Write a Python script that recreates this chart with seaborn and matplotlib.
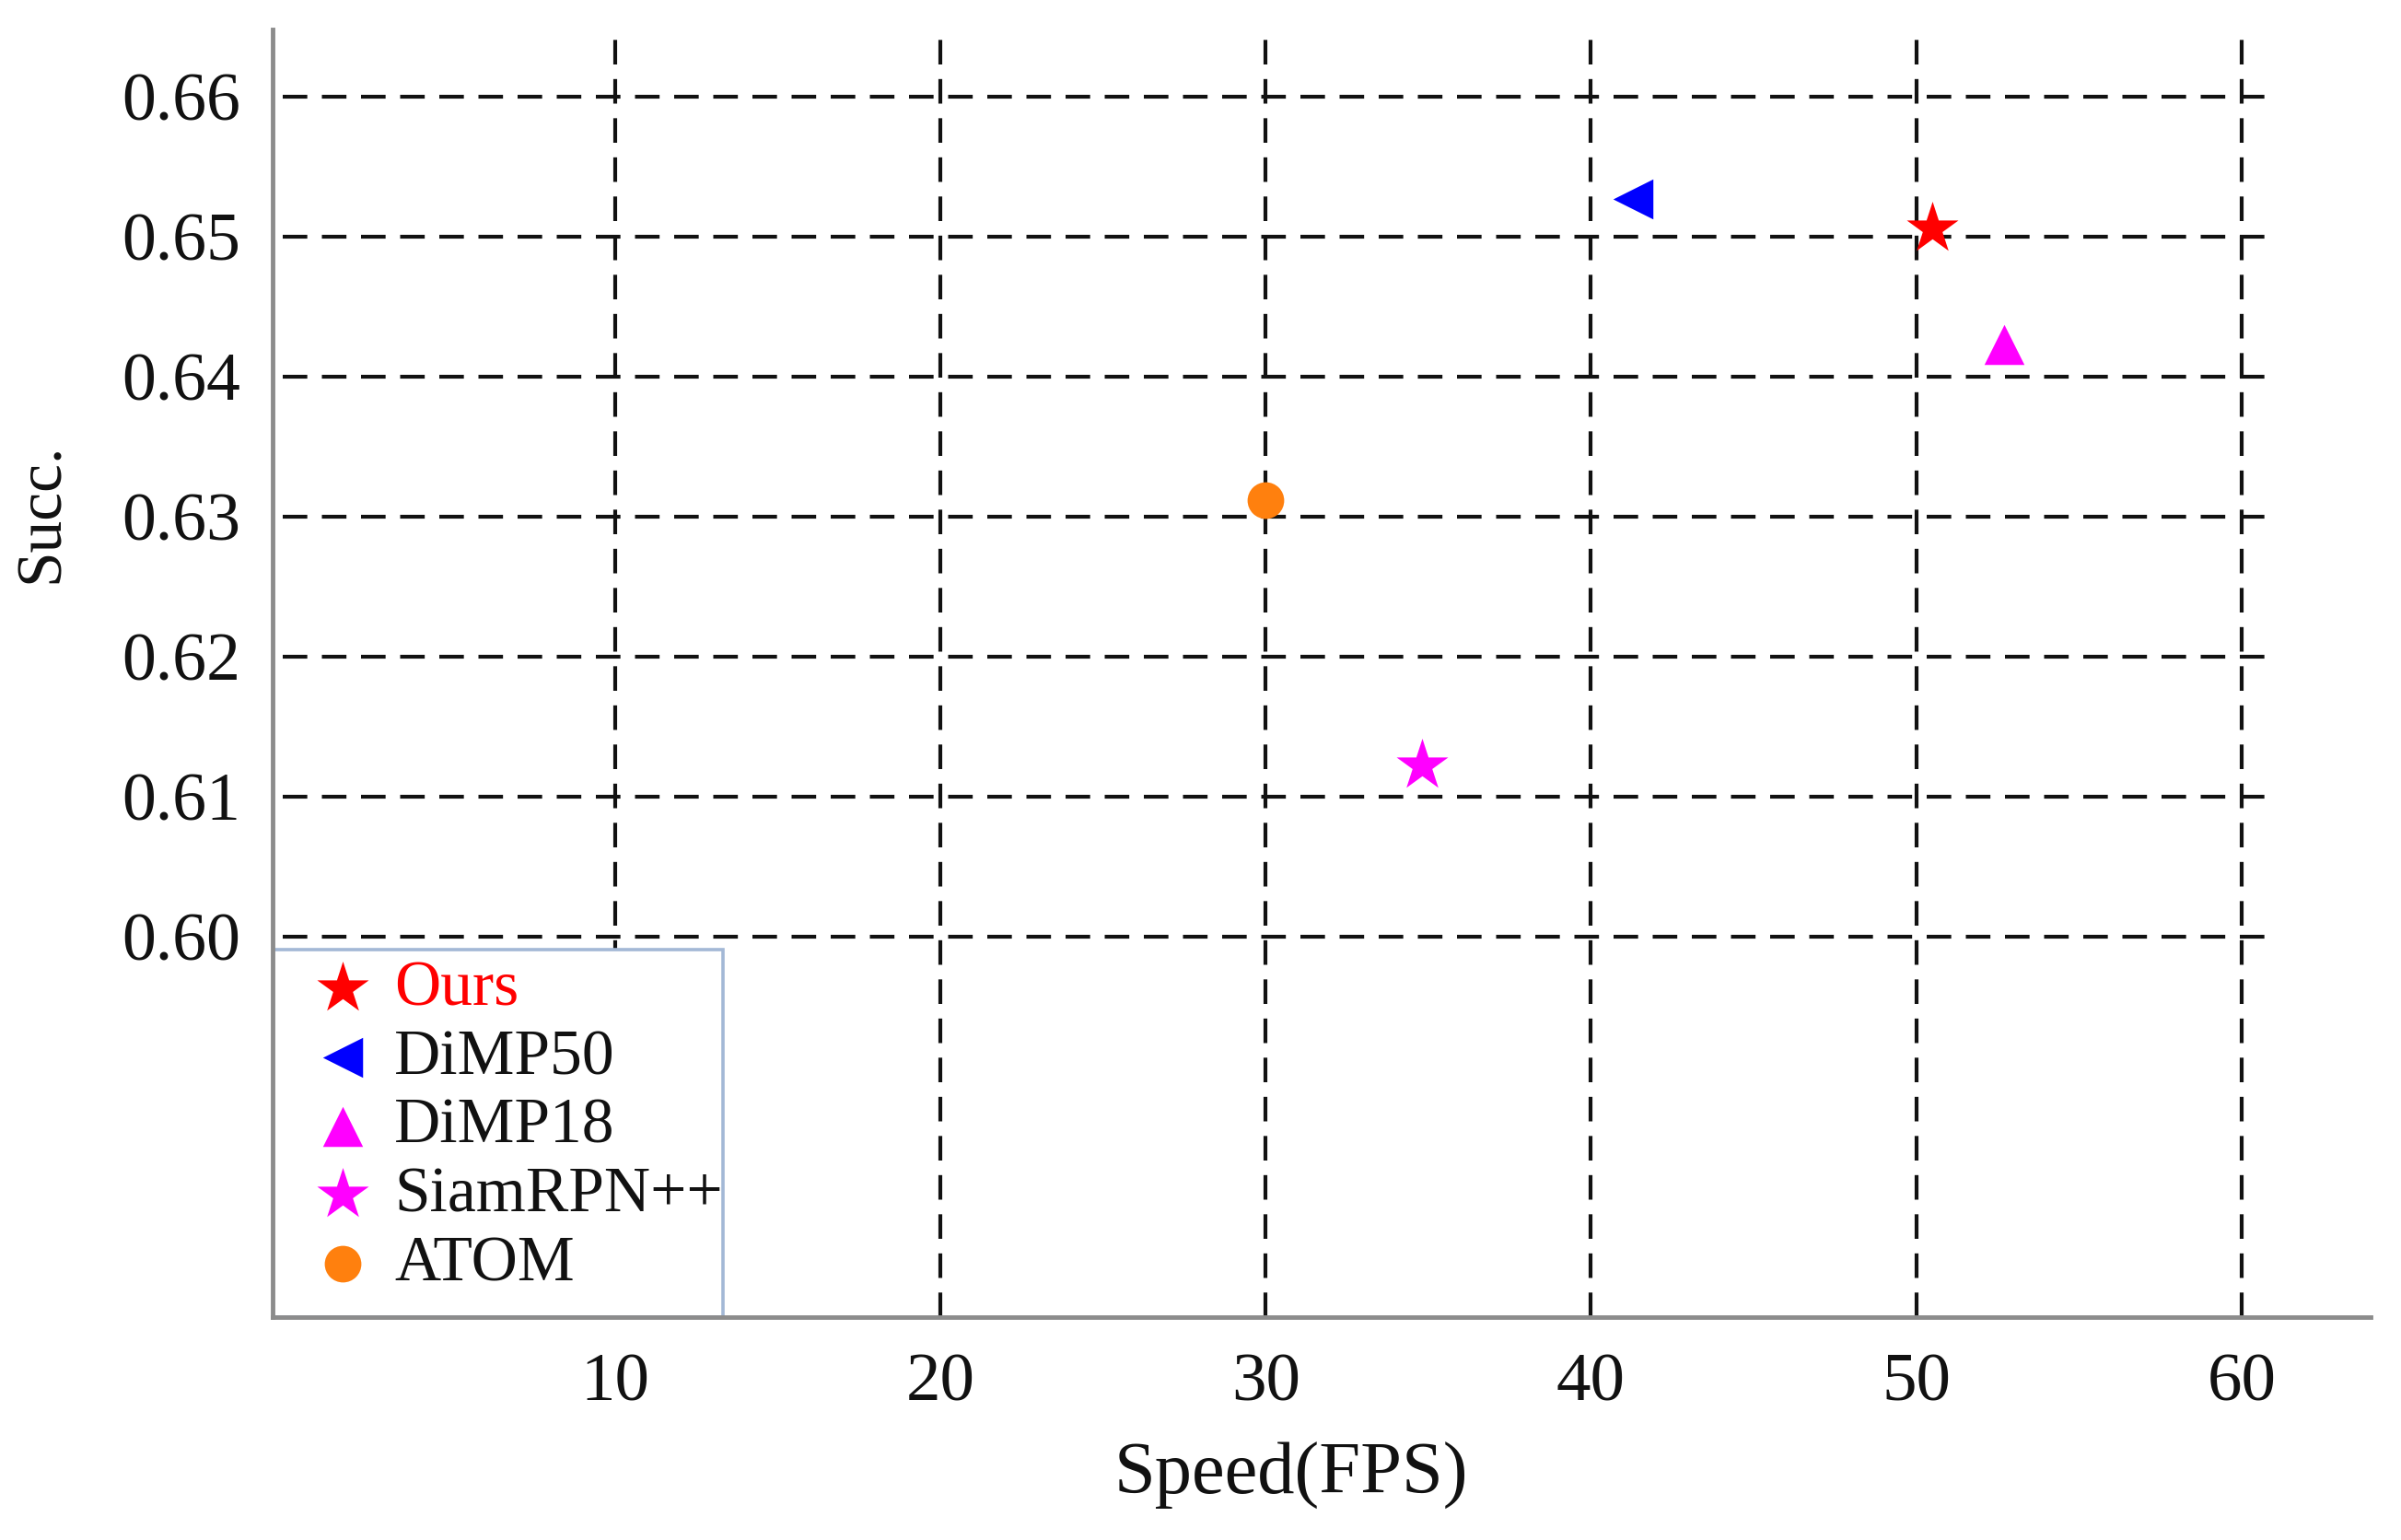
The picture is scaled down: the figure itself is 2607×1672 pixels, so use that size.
import matplotlib
matplotlib.use("Agg")
import matplotlib.pyplot as plt
import seaborn as sns
import pandas as pd
from matplotlib.patches import Rectangle

# ---------------- data ----------------
methods = ["Ours", "DiMP50", "DiMP18", "SiamRPN++", "ATOM"]
speed_fps = [50.5, 41.3, 52.7, 34.8, 30.0]
success = [0.6506, 0.6527, 0.6423, 0.6122, 0.6312]
colors = ["#ff0000", "#0000ff", "#ff00ff", "#ff00ff", "#ff800e"]
markers = ["*", "<", "^", "*", "o"]
marker_sizes = [1800, 980, 980, 1800, 820]

x_ticks = [10, 20, 30, 40, 50, 60]
x_tick_labels = ["10", "20", "30", "40", "50", "60"]
y_ticks = [0.60, 0.61, 0.62, 0.63, 0.64, 0.65, 0.66]
y_tick_labels = ["0.60", "0.61", "0.62", "0.63", "0.64", "0.65", "0.66"]

df = pd.DataFrame({"method": methods, "speed": speed_fps, "succ": success})

# ---------------- style ----------------
sns.set_theme(style="white")
plt.rcParams["font.family"] = ["Liberation Serif", "DejaVu Serif"]

W, H = 2607, 1672
fig = plt.figure(figsize=(W / 100, H / 100), dpi=100)
fig.patch.set_facecolor("white")
ax = fig.add_axes([296 / W, 1 - 1430 / H, (2574 - 296) / W, (1430 - 32) / H])

xlim = (-0.53, 63.97)
ylim = (0.5728, 0.6648)
ax.set_xlim(*xlim)
ax.set_ylim(*ylim)

# grid lines (dashed black)
grid_kw = dict(color="#111111", lw=3.0, dashes=(6.4, 3.8), zorder=1)
hmax = (60.77 - xlim[0]) / (xlim[1] - xlim[0])
for yt in y_ticks:
    ax.axhline(yt, xmin=0.005, xmax=hmax, **grid_kw)
for xt in x_ticks:
    ax.axvline(xt, **grid_kw)

# legend frame box
ax.add_patch(Rectangle((0, 0), (785 - 296) / (2574 - 296), (1430 - 1031) / (1430 - 32),
                       transform=ax.transAxes, facecolor="white",
                       edgecolor="#a3b8d6", lw=2.6, zorder=2.5))

# scatter points
for m, c, mk, s in zip(methods, colors, markers, marker_sizes):
    sub = df[df["method"] == m]
    sns.scatterplot(data=sub, x="speed", y="succ", marker=mk, s=s, color=c,
                    linewidth=0, ax=ax, label=m, zorder=5)

# axes styling
for side in ["top", "right"]:
    ax.spines[side].set_visible(False)
for side in ["left", "bottom"]:
    ax.spines[side].set_color("#8c8c8c")
    ax.spines[side].set_linewidth(3.5)
    ax.spines[side].set_zorder(6)

ax.set_xticks(x_ticks)
ax.set_xticklabels(x_tick_labels)
ax.set_yticks(y_ticks)
ax.set_yticklabels(y_tick_labels)
ax.tick_params(axis="both", direction="in", length=7, width=2, color="#333333",
               labelcolor="#111111")
ax.tick_params(axis="y", labelsize=53, pad=25)
ax.tick_params(axis="x", labelsize=54, pad=28)
ax.set_xlabel("")
ax.set_ylabel("")
ax.grid(False)

fig.text(1402 / W, 1 - 1602 / H, "Speed(FPS)", fontsize=58, ha="center", va="center",
         color="#111111")
fig.text(46 / W, 1 - 557 / H, "Succ.", fontsize=50, ha="center", va="center",
         rotation=90, color="#111111")

# legend
handles, labels = ax.get_legend_handles_labels()
leg = ax.legend(handles, labels, loc="upper left", bbox_to_anchor=(0.0, 0.282),
                frameon=False, fontsize=50, scatterpoints=1, borderpad=0.1,
                borderaxespad=0, handlelength=1.98, handletextpad=-0.18,
                labelspacing=0.16)
leg.set_zorder(7)
for t in leg.get_texts():
    t.set_color("#111111")
leg.get_texts()[0].set_color("#ff0000")

fig.savefig("out.png", dpi=100, facecolor="white")
